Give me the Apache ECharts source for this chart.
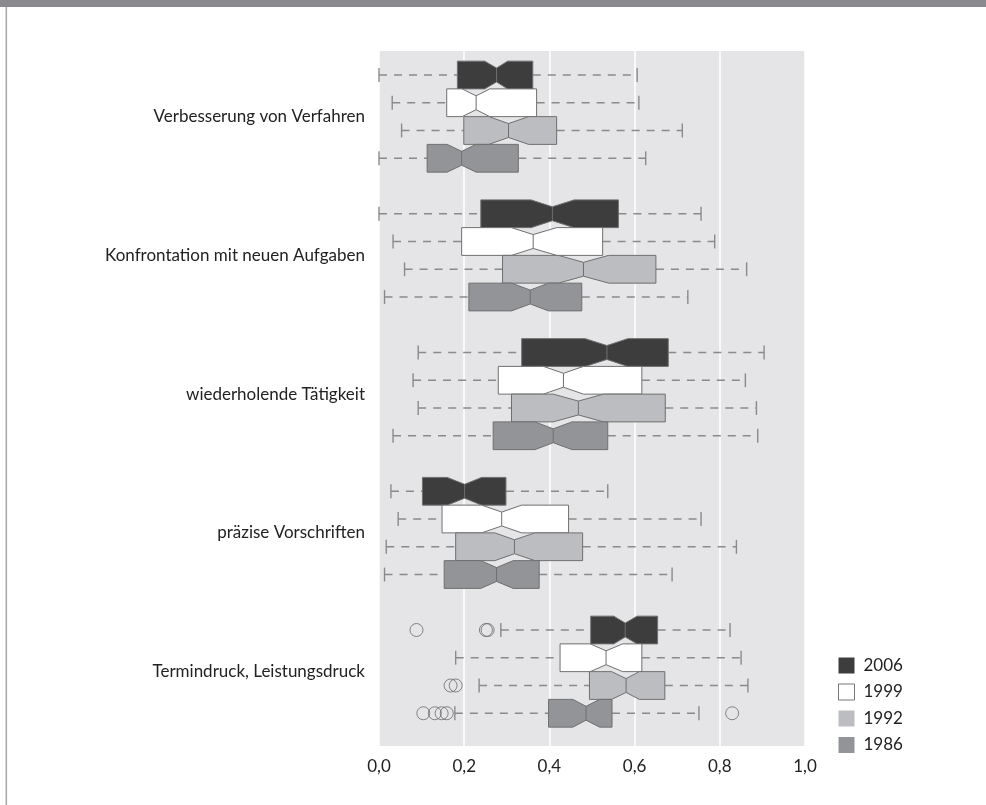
<!DOCTYPE html>
<html>
<head>
<meta charset="utf-8">
<script src="https://cdn.jsdelivr.net/npm/echarts@6/dist/echarts.min.js"></script>
<style>
  html, body { margin: 0; padding: 0; background: #ffffff; }
  #chart { width: 986px; height: 805px; }
</style>
</head>
<body>
<div id="chart"></div>
<script>
// Categories (top to bottom) and survey years (top to bottom within each group)
const categories = [
  'Verbesserung von Verfahren',
  'Konfrontation mit neuen Aufgaben',
  'wiederholende Tätigkeit',
  'präzise Vorschriften',
  'Termindruck, Leistungsdruck'
];
const years = ['2006', '1999', '1992', '1986'];
const xTicks = [0, 0.2, 0.4, 0.6, 0.8, 1.0];

// Notched box statistics per category:
// [whisker low, Q1, notch low, median, notch high, Q3, whisker high]
const stats2006 = [
  [0.000, 0.184, 0.248, 0.276, 0.302, 0.361, 0.606],
  [0.000, 0.239, 0.357, 0.407, 0.458, 0.562, 0.756],
  [0.092, 0.335, 0.484, 0.535, 0.584, 0.679, 0.904],
  [0.028, 0.102, 0.160, 0.201, 0.241, 0.298, 0.537],
  [0.286, 0.497, 0.551, 0.578, 0.606, 0.654, 0.824]
];
const stats1999 = [
  [0.031, 0.159, 0.195, 0.228, 0.260, 0.370, 0.610],
  [0.033, 0.194, 0.311, 0.362, 0.417, 0.525, 0.788],
  [0.080, 0.280, 0.386, 0.433, 0.480, 0.617, 0.860],
  [0.045, 0.148, 0.241, 0.288, 0.335, 0.445, 0.756],
  [0.180, 0.425, 0.496, 0.533, 0.572, 0.617, 0.850]
];
const stats1992 = [
  [0.053, 0.199, 0.258, 0.304, 0.351, 0.417, 0.712],
  [0.060, 0.290, 0.421, 0.480, 0.539, 0.650, 0.863],
  [0.092, 0.311, 0.409, 0.468, 0.527, 0.672, 0.886],
  [0.017, 0.180, 0.272, 0.318, 0.366, 0.478, 0.839],
  [0.235, 0.494, 0.546, 0.580, 0.611, 0.671, 0.866]
];
const stats1986 = [
  [0.000, 0.113, 0.160, 0.194, 0.228, 0.327, 0.626],
  [0.013, 0.211, 0.311, 0.355, 0.398, 0.476, 0.725],
  [0.033, 0.268, 0.366, 0.409, 0.453, 0.537, 0.889],
  [0.013, 0.153, 0.239, 0.276, 0.315, 0.376, 0.688],
  [0.178, 0.398, 0.455, 0.486, 0.518, 0.547, 0.751]
];

// Outliers: [category index, value]
const out2006 = [[4, 0.088], [4, 0.251], [4, 0.255]];
const out1999 = [];
const out1992 = [[4, 0.168], [4, 0.180]];
const out1986 = [[4, 0.104], [4, 0.131], [4, 0.147], [4, 0.159], [4, 0.829]];

const fills = ['#3d3d3d', '#ffffff', '#bcbdc0', '#939497'];
const edge = '#6f6f6f';
const whiskerColor = '#8a8a8a';
const offsets = [-0.3, -0.1, 0.1, 0.3];   // vertical slot of each year within a group
const halfH = 0.1;                        // half box height in category units

const FONT = 'Lato, "Open Sans", sans-serif';

function boxSeries(name, stats, idx) {
  const off = offsets[idx];
  return {
    name: name,
    type: 'custom',
    itemStyle: { color: fills[idx], borderColor: edge, borderWidth: 1 },
    data: stats.map((s, i) => [i].concat(s)),
    encode: { x: [1, 2, 3, 4, 5, 6, 7], y: 0 },
    renderItem: function (params, api) {
      const c = api.value(0) + off;
      const X = v => api.coord([api.value(v), c])[0];
      const yT = api.coord([0, c - halfH])[1];
      const yB = api.coord([0, c + halfH])[1];
      const yM = api.coord([0, c])[1];
      const h = yB - yT;
      const dn = h / 4;
      const lo = X(1), q1 = X(2), nl = X(3), md = X(4), nh = X(5), q3 = X(6), hi = X(7);
      const dash = { stroke: whiskerColor, lineWidth: 1.4, lineDash: [8, 7] };
      const cap = { stroke: whiskerColor, lineWidth: 1.4 };
      return {
        type: 'group',
        children: [
          { type: 'line', shape: { x1: lo, y1: yM, x2: q1, y2: yM }, style: dash },
          { type: 'line', shape: { x1: q3, y1: yM, x2: hi, y2: yM }, style: dash },
          { type: 'line', shape: { x1: lo, y1: yM - h / 4, x2: lo, y2: yM + h / 4 }, style: cap },
          { type: 'line', shape: { x1: hi, y1: yM - h / 4, x2: hi, y2: yM + h / 4 }, style: cap },
          {
            type: 'polygon',
            shape: {
              points: [
                [q1, yT], [nl, yT], [md, yT + dn], [nh, yT], [q3, yT],
                [q3, yB], [nh, yB], [md, yB - dn], [nl, yB], [q1, yB]
              ]
            },
            style: { fill: fills[idx], stroke: edge, lineWidth: 1 }
          },
          { type: 'line', shape: { x1: md, y1: yT + dn, x2: md, y2: yB - dn }, style: { stroke: edge, lineWidth: 1 } }
        ]
      };
    },
    z: 3
  };
}

function outlierSeries(name, pts, idx) {
  return {
    name: name + ' Ausreißer',
    type: 'scatter',
    data: pts.map(p => [p[1], p[0] + offsets[idx]]),
    symbol: 'circle',
    symbolSize: 13,
    itemStyle: { color: 'rgba(0,0,0,0)', borderColor: '#6a6a6a', borderWidth: 1 },
    silent: true,
    z: 4
  };
}

const chart = echarts.init(document.getElementById('chart'), null, { renderer: 'canvas' });

const statsAll = [stats2006, stats1999, stats1992, stats1986];
const outAll = [out2006, out1999, out1992, out1986];

const series = [];
years.forEach((y, i) => series.push(boxSeries(y, statsAll[i], i)));
years.forEach((y, i) => { if (outAll[i].length) series.push(outlierSeries(y, outAll[i], i)); });

chart.setOption({
  animation: false,
  backgroundColor: '#ffffff',
  textStyle: { fontFamily: FONT },
  graphic: [
    { type: 'rect', shape: { x: 0, y: 0, width: 986, height: 7 }, style: { fill: '#8a8a8e' }, silent: true },
    { type: 'rect', shape: { x: 5.5, y: 7, width: 1.6, height: 798 }, style: { fill: '#ababab' }, silent: true }
  ],
  grid: {
    left: 379, right: 181, top: 51, bottom: 59,
    show: true, backgroundColor: '#e5e5e8', borderWidth: 0
  },
  legend: {
    orient: 'vertical',
    left: 833, top: 652,
    itemWidth: 16, itemHeight: 16, itemGap: 9.5,
    textStyle: { fontFamily: FONT, fontSize: 17, color: '#222', padding: [0, 0, 0, 4] },
    data: years.map((y, i) => ({
      name: y, icon: 'rect',
      itemStyle: { color: fills[i], borderColor: i === 1 ? '#777' : fills[i], borderWidth: i === 1 ? 1 : 0 }
    })),
    selectedMode: false
  },
  xAxis: {
    type: 'value',
    min: xTicks[0], max: xTicks[xTicks.length - 1], interval: 0.2,
    axisLine: { show: false },
    axisTick: { show: false },
    splitLine: { show: true, lineStyle: { color: '#ffffff', width: 1.5 } },
    axisLabel: {
      margin: 12, fontSize: 17, color: '#222', fontFamily: FONT,
      formatter: v => v.toFixed(1).replace('.', ',')
    }
  },
  yAxis: {
    type: 'value',
    inverse: true,
    min: -0.473, max: 4.536,
    axisLine: { show: false },
    axisTick: { show: false },
    splitLine: { show: false },
    axisLabel: {
      customValues: [0, 1, 2, 3, 4],
      margin: 14, fontSize: 17, color: '#222', fontFamily: FONT,
      formatter: v => categories[Math.round(v)] || ''
    }
  },
  series: series
});
</script>
</body>
</html>
